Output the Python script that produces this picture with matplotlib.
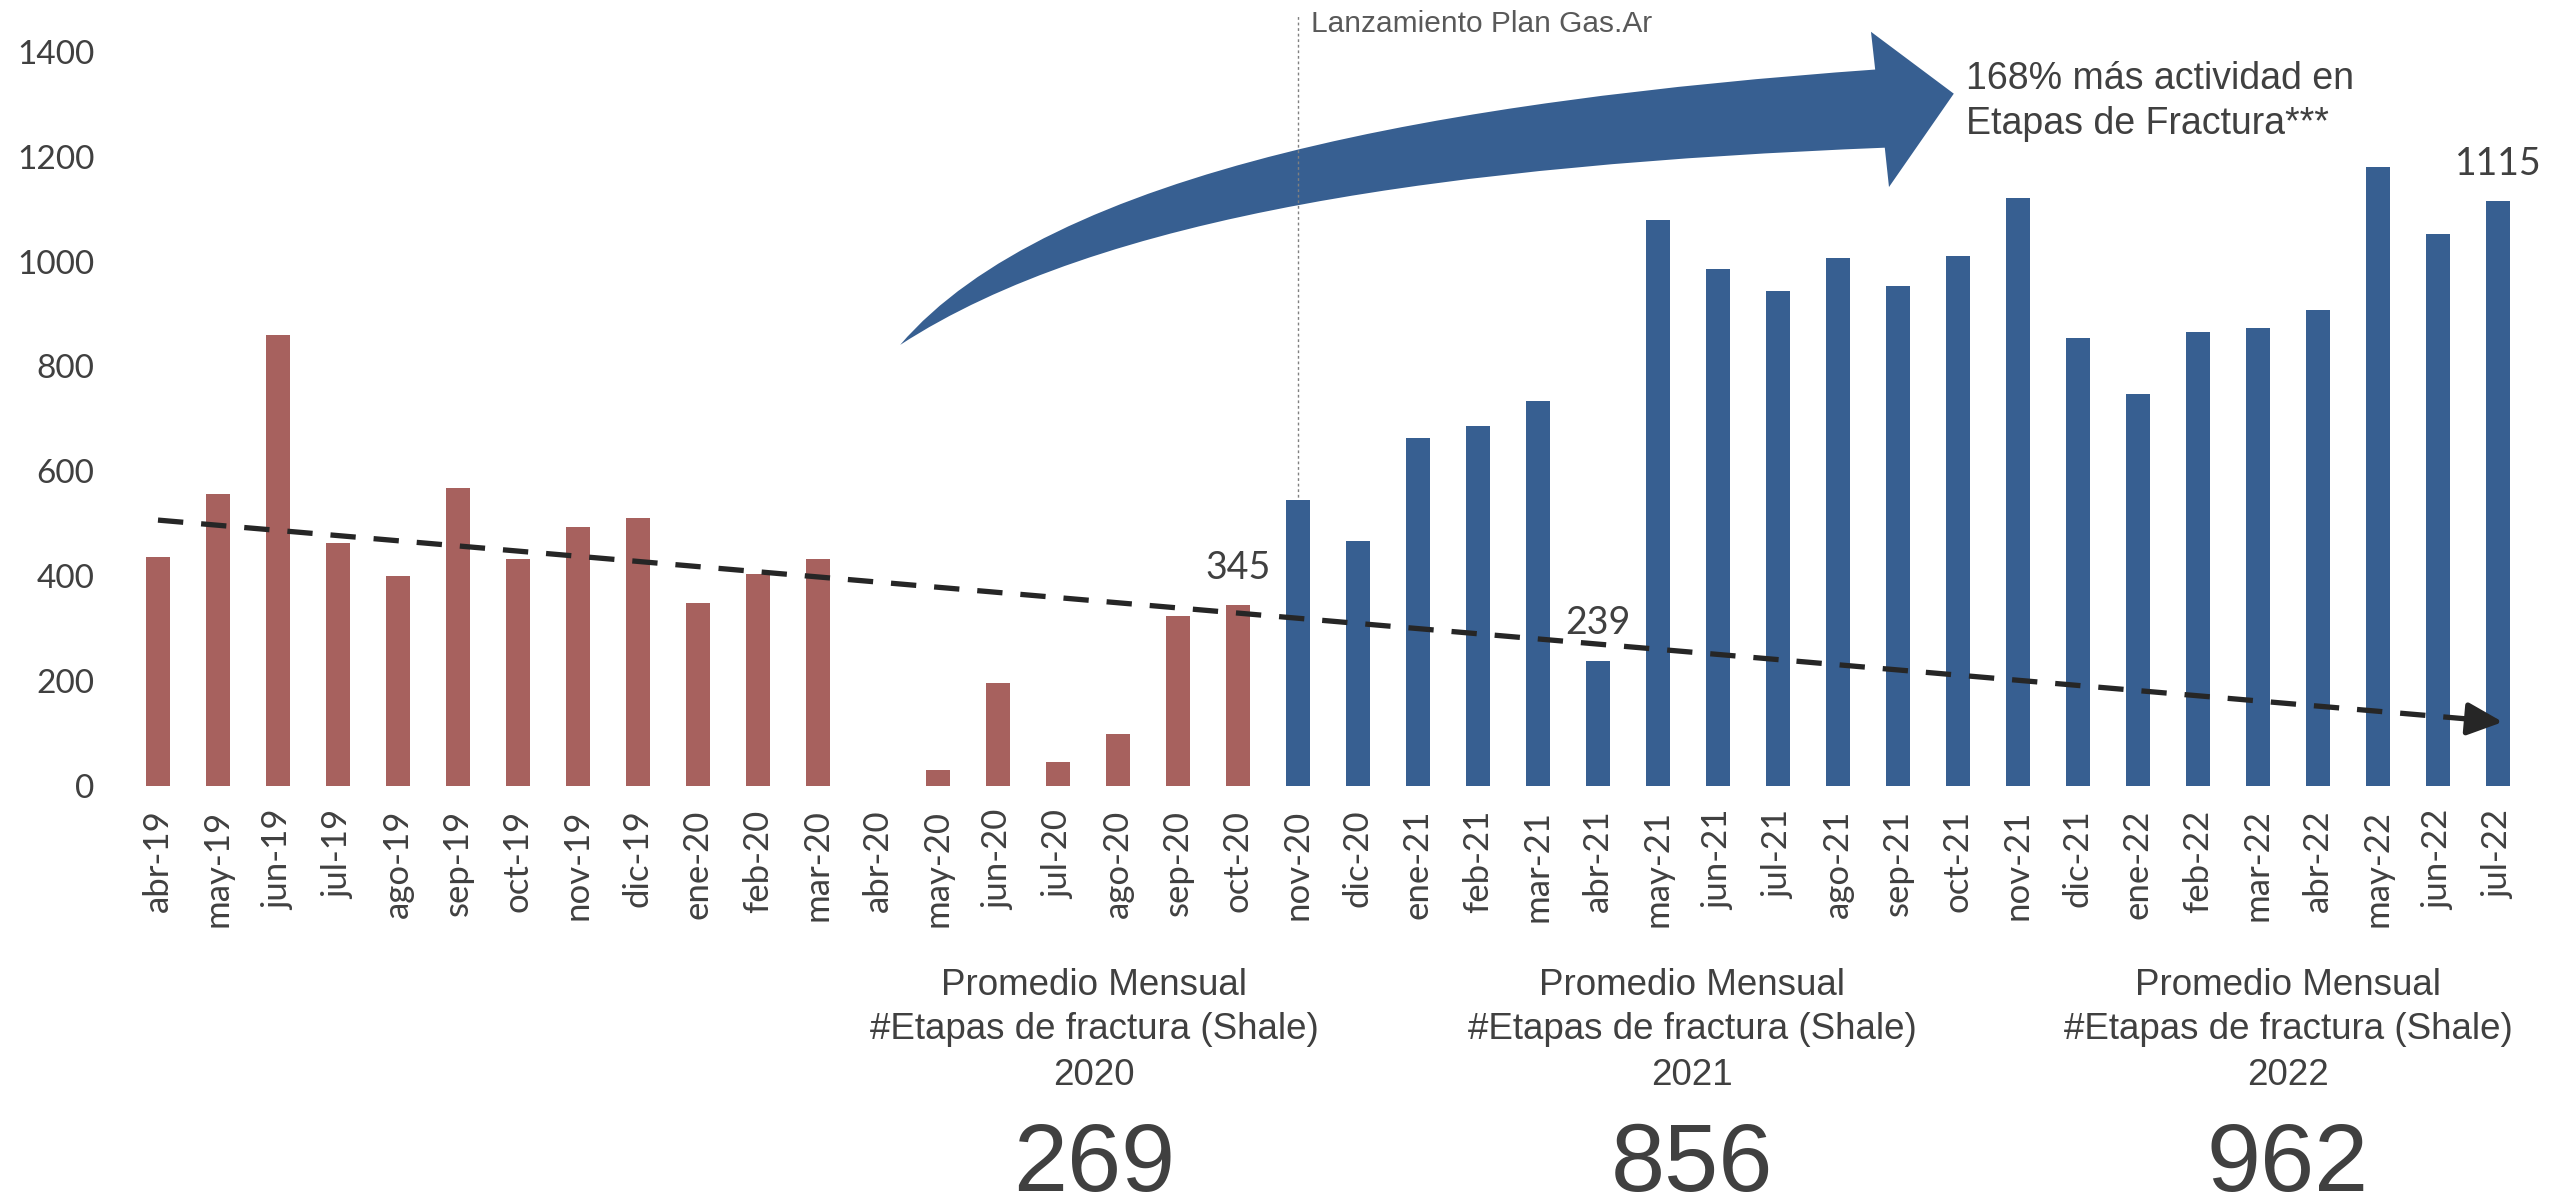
import numpy as np
import matplotlib
matplotlib.use("Agg")
import matplotlib.pyplot as plt
from matplotlib.path import Path
from matplotlib.patches import PathPatch
from matplotlib.transforms import blended_transform_factory

# ── data ───────────────────────────────────────────────────────────────────────
months = ["abr-19", "may-19", "jun-19", "jul-19", "ago-19", "sep-19", "oct-19", "nov-19", "dic-19",
          "ene-20", "feb-20", "mar-20", "abr-20", "may-20", "jun-20", "jul-20", "ago-20", "sep-20",
          "oct-20", "nov-20", "dic-20",
          "ene-21", "feb-21", "mar-21", "abr-21", "may-21", "jun-21", "jul-21", "ago-21", "sep-21",
          "oct-21", "nov-21", "dic-21",
          "ene-22", "feb-22", "mar-22", "abr-22", "may-22", "jun-22", "jul-22"]
etapas = [437, 557, 860, 463, 400, 568, 433, 493, 511,
          348, 404, 433, 0, 30, 196, 46, 99, 324,
          345, 546, 468,
          663, 686, 734, 239, 1079, 985, 944, 1007, 953,
          1011, 1122, 855,
          747, 865, 874, 907, 1180, 1053, 1115]
launch_month = "nov-20"
labelled_months = ["oct-20", "abr-21", "jul-22"]

# dashed trend (start / end, month index and value)
trend_idx = [0, 39.08]
trend_val = [507, 122]

years = ["2020", "2021", "2022"]
year_avg = [269, 856, 962]

RED, BLUE = "#A7615E", "#375F91"
TXT = "#404040"

fig = plt.figure(figsize=(25.52, 11.99), dpi=100)
ax = fig.add_axes([0.0478, 0.34445, 0.94514, 0.64304])

x = np.arange(len(months))
i_launch = months.index(launch_month)
colors = [RED if i < i_launch else BLUE for i in x]
ax.bar(x, etapas, width=0.41, color=colors, zorder=3)

ax.set_xlim(-0.6, 39.6)
ax.set_ylim(0, 1470)
for s in ax.spines.values():
    s.set_visible(False)
ax.set_yticks(range(0, 1401, 200))
ax.set_xticks(x)
ax.set_xticklabels(months, rotation=90, family="Lato")
for lab in ax.get_yticklabels():
    lab.set_family("Lato")
ax.tick_params(axis="y", length=0, pad=20, labelsize=24, labelcolor=TXT)
ax.tick_params(axis="x", length=0, pad=17, labelsize=25, labelcolor=TXT)

# launch marker
ax.axvline(i_launch, color="#808080", lw=1, ls=(0, (2, 2)), zorder=2)
ax.text(i_launch + 0.22, 1438, "Lanzamiento Plan Gas.Ar", fontsize=21.5, color="#595959",
        family="Liberation Sans", va="baseline", ha="left")

# big curved arrow (top edge, head, bottom edge)
verts = [(12.37, 841), (14.87, 1175), (21.53, 1308), (28.62, 1366),
         (28.55, 1438), (29.93, 1320), (28.85, 1142), (28.78, 1217),
         (21.53, 1184), (15.70, 1089), (12.37, 841), (12.37, 841)]
codes = [Path.MOVETO, Path.CURVE4, Path.CURVE4, Path.CURVE4,
         Path.LINETO, Path.LINETO, Path.LINETO, Path.LINETO,
         Path.CURVE4, Path.CURVE4, Path.CURVE4, Path.CLOSEPOLY]
ax.add_patch(PathPatch(Path(verts, codes), facecolor=BLUE, edgecolor="none", zorder=1))
ax.text(30.13, 1305, "168% más actividad en\nEtapas de Fractura***", fontsize=27, color=TXT,
        family="Liberation Sans", va="center", ha="left", linespacing=1.35)

# dashed trend with arrow head
x_cut = 38.45
y_cut = np.interp(x_cut, trend_idx, trend_val)
ax.plot([trend_idx[0], x_cut], [trend_val[0], y_cut], color="#262626", lw=3.8,
        ls=(0, (4.8, 3.4)), zorder=4, solid_capstyle="butt", dash_capstyle="butt")
ax.annotate("", xy=(trend_idx[1], trend_val[1]), xytext=(x_cut, y_cut),
            arrowprops=dict(arrowstyle="-|>,head_length=1.08,head_width=0.5", color="#262626",
                            lw=3.8, mutation_scale=20, shrinkA=0, shrinkB=0), zorder=4)

# value labels
for m in labelled_months:
    i = months.index(m)
    ax.annotate(str(etapas[i]), (i, etapas[i]), xytext=(0, 27), textcoords="offset points",
                ha="center", va="center", fontsize=27, color=TXT, family="Lato")

# yearly monthly averages under the chart
trans = blended_transform_factory(ax.transData, fig.transFigure)
centers = [15.6, 25.57, 35.5]
for cx, yr, avg in zip(centers, years, year_avg):
    ax.text(cx, 0.1777, "Promedio Mensual", transform=trans, ha="center", va="center",
            fontsize=26.5, color=TXT, family="Liberation Sans")
    ax.text(cx, 0.141, "#Etapas de fractura (Shale)", transform=trans, ha="center", va="center",
            fontsize=26.5, color=TXT, family="Liberation Sans")
    ax.text(cx, 0.1026, yr, transform=trans, ha="center", va="center",
            fontsize=26.5, color=TXT, family="Liberation Sans")
    ax.text(cx, 0.0065, str(avg), transform=trans, ha="center", va="baseline",
            fontsize=70, color=TXT, family="Liberation Sans")

fig.savefig("out.png", dpi=100)
